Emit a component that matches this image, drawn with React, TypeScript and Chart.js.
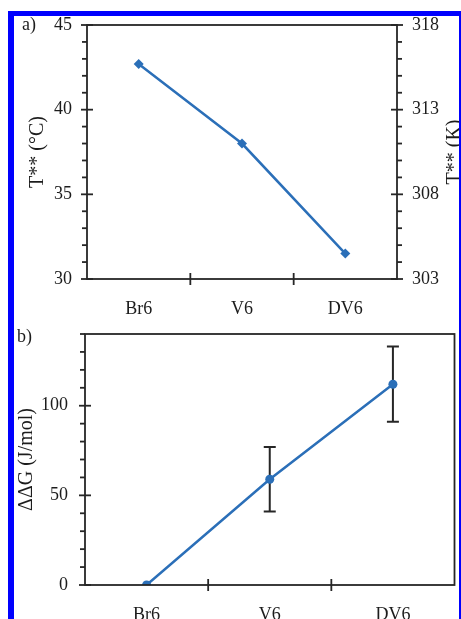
import React, { useEffect, useRef } from "react";
import { Chart, registerables } from "chart.js";

Chart.register(...registerables);

// ---- data ----
const categories = ["Br6", "V6", "DV6"];
const tCelsius = [42.7, 38.0, 31.5];
const ddG = [0, 59, 112];
const ddGErr = [0, 18, 21];
const tcRange = [30, 45];
const tkRange = [303, 318];
const ddGRange = [0, 140];

const FONT = "'Liberation Serif', 'DejaVu Serif', serif";
const INK = "#262626";
const TEXT = "#1c1c1c";
const LINE = "#2b6fb8";

type Minor = { id: string; side: "left" | "right"; minor: number; major: number };

function makeDecor(cfg: {
  minors: Minor[];
  panelLabel: { text: string; x: number; y: number };
  rightTitle?: { text: string; x: number };
  errors?: number[];
}) {
  return {
    id: "decor",
    beforeDatasetsDraw(chart: any) {
      if (!cfg.errors) return;
      const ctx = chart.ctx as CanvasRenderingContext2D;
      const xs = chart.scales.x;
      const ys = chart.scales.y;
      const vals = chart.data.datasets[0].data as number[];
      ctx.save();
      ctx.strokeStyle = INK;
      ctx.lineWidth = 2;
      vals.forEach((v, i) => {
        const e = cfg.errors![i];
        if (!e) return;
        const x = xs.getPixelForValue(i);
        const y1 = ys.getPixelForValue(v + e);
        const y0 = ys.getPixelForValue(v - e);
        ctx.beginPath();
        ctx.moveTo(x, y0);
        ctx.lineTo(x, y1);
        ctx.moveTo(x - 6, y0);
        ctx.lineTo(x + 6, y0);
        ctx.moveTo(x - 6, y1);
        ctx.lineTo(x + 6, y1);
        ctx.stroke();
      });
      ctx.restore();
    },
    afterDraw(chart: any) {
      const ctx = chart.ctx as CanvasRenderingContext2D;
      const a = chart.chartArea;
      ctx.save();
      ctx.strokeStyle = INK;
      ctx.lineWidth = 1.8;
      ctx.strokeRect(a.left, a.top, a.right - a.left, a.bottom - a.top);
      // y ticks
      cfg.minors.forEach((m) => {
        const s = chart.scales[m.id];
        const ax = m.side === "left" ? a.left : a.right;
        const dir = m.side === "left" ? -1 : 1;
        for (let v = s.min; v <= s.max + 1e-9; v += m.minor) {
          const p = s.getPixelForValue(v);
          const k = (v - s.min) / m.major;
          const major = Math.abs(k - Math.round(k)) < 1e-6;
          ctx.beginPath();
          if (major) {
            ctx.moveTo(ax - 6, p);
            ctx.lineTo(ax + 6, p);
          } else {
            ctx.moveTo(ax, p);
            ctx.lineTo(ax + dir * 5, p);
          }
          ctx.stroke();
        }
      });
      // x category boundary ticks
      const xs = chart.scales.x;
      for (let i = 0; i < categories.length - 1; i++) {
        const p = (xs.getPixelForValue(i) + xs.getPixelForValue(i + 1)) / 2;
        ctx.beginPath();
        ctx.moveTo(p, a.bottom - 6);
        ctx.lineTo(p, a.bottom + 6);
        ctx.stroke();
      }
      ctx.fillStyle = TEXT;
      ctx.font = `18px ${FONT}`;
      ctx.textAlign = "left";
      ctx.textBaseline = "alphabetic";
      ctx.fillText(cfg.panelLabel.text, cfg.panelLabel.x, cfg.panelLabel.y);
      if (cfg.rightTitle) {
        ctx.font = `20px ${FONT}`;
        ctx.translate(cfg.rightTitle.x, (a.top + a.bottom) / 2);
        ctx.rotate(-Math.PI / 2);
        ctx.textAlign = "center";
        ctx.fillText(cfg.rightTitle.text, 0, 0);
      }
      ctx.restore();
    },
  };
}

const tickFont = { family: FONT, size: 18, lineHeight: 1 };
const titleFont = { family: FONT, size: 20 };

const fixV = (w: number) => (s: any) => {
  s.width = w;
  s.paddingTop = 0;
  s.paddingBottom = 0;
};
const fixH = (h: number) => (s: any) => {
  s.height = h;
  s.paddingLeft = 0;
  s.paddingRight = 0;
};

function PanelA() {
  const ref = useRef<HTMLCanvasElement | null>(null);
  useEffect(() => {
    const chart = new Chart(ref.current!, {
      type: "line",
      data: {
        labels: categories,
        datasets: [
          {
            data: tCelsius,
            yAxisID: "y",
            borderColor: LINE,
            backgroundColor: LINE,
            borderWidth: 2.5,
            pointStyle: "rectRot",
            pointRadius: 5,
            pointBorderWidth: 0,
            tension: 0,
          },
        ],
      },
      options: {
        animation: false,
        responsive: false,
        events: [],
        layout: { padding: { top: 9, left: 0, right: 0, bottom: 0 } },
        plugins: { legend: { display: false }, tooltip: { enabled: false } },
        scales: {
          x: {
            type: "category",
            offset: true,
            grid: { display: false, drawTicks: false, offset: true },
            border: { display: false },
            ticks: { font: { family: FONT, size: 18 }, color: TEXT, padding: 19, maxRotation: 0 },
            afterFit: fixH(39),
          },
          y: {
            position: "left",
            min: tcRange[0],
            max: tcRange[1],
            grid: { display: false, drawTicks: false },
            border: { display: false },
            ticks: { stepSize: 5, font: tickFont, color: TEXT, padding: 15 },
            title: { display: true, text: "T** (°C)", font: titleFont, color: TEXT, padding: { top: 12, bottom: 0 } },
            afterFit: fixV(73),
          },
          y2: {
            position: "right",
            min: tkRange[0],
            max: tkRange[1],
            grid: { display: false, drawTicks: false },
            border: { display: false },
            ticks: { stepSize: 5, font: tickFont, color: TEXT, padding: 15 },
            afterFit: fixV(62),
          },
        },
      } as any,
      plugins: [
        makeDecor({
          minors: [
            { id: "y", side: "left", minor: 1, major: 5 },
            { id: "y2", side: "right", minor: 1, major: 5 },
          ],
          panelLabel: { text: "a)", x: 8, y: 14 },
          rightTitle: { text: "T** (K)", x: 446 },
        }),
      ],
    });
    return () => chart.destroy();
  }, []);
  return <canvas ref={ref} width={445} height={302} style={{ display: "block" }} />;
}

function PanelB() {
  const ref = useRef<HTMLCanvasElement | null>(null);
  useEffect(() => {
    const chart = new Chart(ref.current!, {
      type: "line",
      data: {
        labels: categories,
        datasets: [
          {
            data: ddG,
            borderColor: LINE,
            backgroundColor: LINE,
            borderWidth: 2.5,
            pointStyle: "circle",
            pointRadius: 4.5,
            pointBorderWidth: 0,
            tension: 0,
          },
        ],
      },
      options: {
        animation: false,
        responsive: false,
        events: [],
        layout: { padding: { top: 16, left: 0, right: 2, bottom: 0 } },
        plugins: { legend: { display: false }, tooltip: { enabled: false } },
        scales: {
          x: {
            type: "category",
            offset: true,
            grid: { display: false, drawTicks: false, offset: true },
            border: { display: false },
            ticks: { font: { family: FONT, size: 18 }, color: TEXT, padding: 19, maxRotation: 0 },
            afterFit: fixH(34),
          },
          y: {
            position: "left",
            min: ddGRange[0],
            max: ddGRange[1],
            grid: { display: false, drawTicks: false },
            border: { display: false },
            ticks: { stepSize: 50, includeBounds: false, font: tickFont, color: TEXT, padding: 17 },
            title: { display: true, text: "ΔΔG (J/mol)", font: titleFont, color: TEXT, padding: { top: 1, bottom: 0 } },
            afterFit: fixV(71),
          },
        },
      } as any,
      plugins: [
        makeDecor({
          minors: [{ id: "y", side: "left", minor: 10, major: 50 }],
          panelLabel: { text: "b)", x: 3, y: 24 },
          errors: ddGErr,
        }),
      ],
    });
    return () => chart.destroy();
  }, []);
  return <canvas ref={ref} width={445} height={301} style={{ display: "block" }} />;
}

export default function App() {
  return (
    <div
      style={{
        position: "absolute",
        left: 8,
        top: 11,
        width: 445,
        height: 603,
        overflow: "hidden",
        background: "#ffffff",
        borderLeft: "6px solid #0000fe",
        borderTop: "5px solid #0000fe",
        borderRight: "2px solid #0000fe",
      }}
    >
      <PanelA />
      <PanelB />
    </div>
  );
}
